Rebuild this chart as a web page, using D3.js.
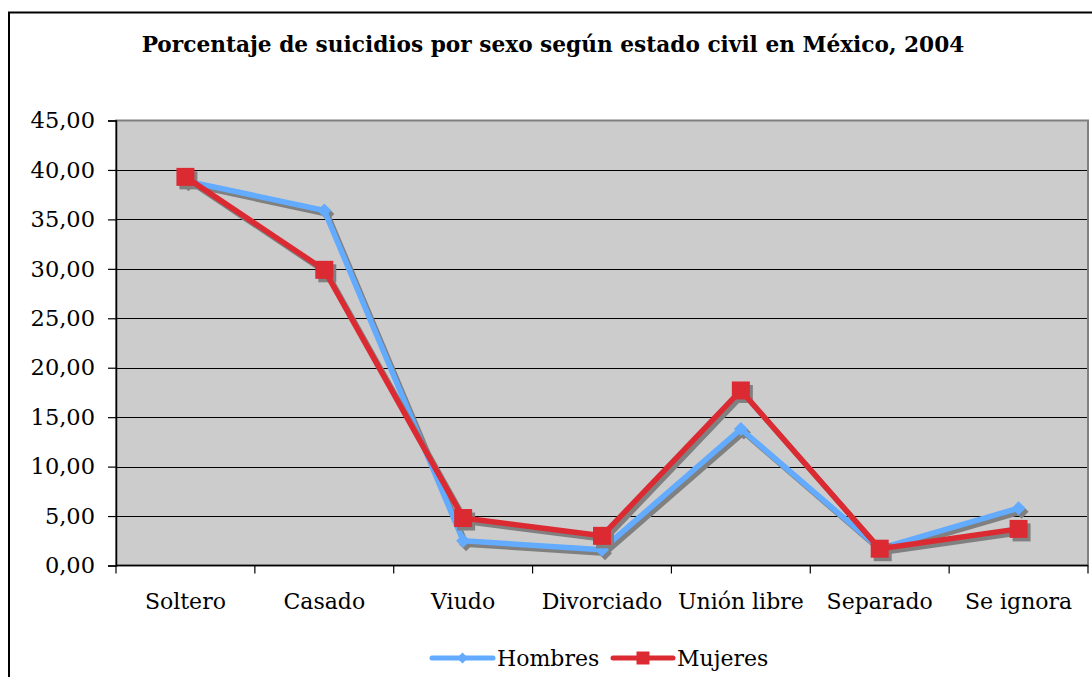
<!DOCTYPE html>
<html>
<head>
<meta charset="utf-8">
<script src="https://cdn.jsdelivr.net/npm/d3@7"></script>
<style>
  html, body { margin: 0; padding: 0; background: #ffffff; }
  svg { display: block; }
</style>
</head>
<body>
<svg id="chart" width="1092" height="677"></svg>
<script>
// Estado civil (categorías del eje X)
const categories = ["Soltero", "Casado", "Viudo", "Divorciado", "Unión libre", "Separado", "Se ignora"];
// Porcentaje de suicidios de hombres por estado civil
const hombres = [38.9, 35.9, 2.5, 1.6, 13.8, 1.7, 5.8];
// Porcentaje de suicidios de mujeres por estado civil
const mujeres = [39.3, 29.9, 4.8, 3.0, 17.7, 1.7, 3.7];
// Marcas del eje Y
const yTicks = [0, 5, 10, 15, 20, 25, 30, 35, 40, 45];
const seriesNames = ["Hombres", "Mujeres"];
const title = "Porcentaje de suicidios por sexo según estado civil en México, 2004";

const svg = d3.select("#chart");
const serif = "'DejaVu Serif', 'Liberation Serif', serif";

const plot = { left: 116, top: 120.5, right: 1088, bottom: 565.5 };

// Marco exterior del gráfico
svg.append("path")
  .attr("d", `M9,677 V12.5 H1092`)
  .attr("fill", "none")
  .attr("stroke", "#000")
  .attr("stroke-width", 2);

// Título
const titleText = svg.append("text")
  .attr("x", 553)
  .attr("y", 52)
  .attr("text-anchor", "middle")
  .attr("font-family", serif)
  .attr("font-weight", "bold")
  .attr("font-size", 18)
  .attr("fill", "#000")
  .text(title);
{
  const w = titleText.node().getComputedTextLength();
  titleText.attr("font-size", 18 * 823 / w);
}

const x = d3.scaleBand().domain(categories).range([plot.left, plot.right]).padding(0);
const cx = c => x(c) + x.bandwidth() / 2;
const y = d3.scaleLinear().domain([0, 45]).range([plot.bottom, plot.top]);

// Fondo del área de trazado
svg.append("rect")
  .attr("x", plot.left).attr("y", plot.top)
  .attr("width", plot.right - plot.left).attr("height", plot.bottom - plot.top)
  .attr("fill", "#cccccc");

// Líneas de división horizontales
svg.append("g").selectAll("line")
  .data(yTicks.filter(v => v > 0 && v < 45))
  .join("line")
  .attr("x1", plot.left).attr("x2", plot.right)
  .attr("y1", d => Math.round(y(d)) + 0.5).attr("y2", d => Math.round(y(d)) + 0.5)
  .attr("stroke", "#000").attr("stroke-width", 1.2);

// Borde del área de trazado
svg.append("rect")
  .attr("x", plot.left).attr("y", plot.top)
  .attr("width", plot.right - plot.left).attr("height", plot.bottom - plot.top)
  .attr("fill", "none")
  .attr("stroke", "#808080").attr("stroke-width", 2);

// Eje Y
const fmt = v => d3.format(".2f")(v).replace(".", ",");
const yAxis = svg.append("g")
  .attr("transform", `translate(${plot.left},0)`)
  .call(d3.axisLeft(y).tickValues(yTicks).tickSize(8).tickPadding(13).tickFormat(fmt));
yAxis.select(".domain").attr("stroke", "#000").attr("stroke-width", 1.5);
yAxis.selectAll(".tick line").attr("stroke", "#000").attr("stroke-width", 1.2);
yAxis.selectAll(".tick text")
  .attr("font-family", serif).attr("font-size", 22.5).attr("fill", "#000");

// Eje X con marcas entre categorías
const xAxisG = svg.append("g");
xAxisG.append("line")
  .attr("x1", plot.left).attr("x2", plot.right)
  .attr("y1", plot.bottom).attr("y2", plot.bottom)
  .attr("stroke", "#000").attr("stroke-width", 1.5);
const boundaries = categories.map(c => x(c)).concat([plot.right]);
xAxisG.selectAll("line.tick")
  .data(boundaries)
  .join("line")
  .attr("class", "tick")
  .attr("x1", d => d).attr("x2", d => d)
  .attr("y1", plot.bottom).attr("y2", plot.bottom + 8)
  .attr("stroke", "#000").attr("stroke-width", 1.2);
xAxisG.selectAll("text")
  .data(categories)
  .join("text")
  .attr("x", d => cx(d))
  .attr("y", 609)
  .attr("text-anchor", "middle")
  .attr("font-family", serif).attr("font-size", 22).attr("fill", "#000")
  .text(d => d);

const line = d3.line().x((d, i) => cx(categories[i])).y(d => y(d));

const series = [
  { name: "Hombres", values: hombres, color: "#62abff", marker: "diamond" },
  { name: "Mujeres", values: mujeres, color: "#dc2a33", marker: "square" }
];

const symbolPath = (type, size) => type === "diamond"
  ? `M0,${-size / 2}L${size / 2},0L0,${size / 2}L${-size / 2},0Z`
  : `M${-size / 2},${-size / 2}H${size / 2}V${size / 2}H${-size / 2}Z`;

const shadow = { dx: 3, dy: 3.5, color: "#808080" };

series.forEach(s => {
  const g = svg.append("g");
  const msize = s.marker === "diamond" ? 14 : 18;
  // Sombra
  g.append("path")
    .attr("d", line(s.values))
    .attr("transform", `translate(${shadow.dx},${shadow.dy})`)
    .attr("fill", "none").attr("stroke", shadow.color)
    .attr("stroke-width", 5.5).attr("stroke-linejoin", "round");
  g.selectAll("path.shadowMark")
    .data(s.values)
    .join("path")
    .attr("class", "shadowMark")
    .attr("transform", (d, i) => `translate(${cx(categories[i]) + shadow.dx},${y(d) + shadow.dy})`)
    .attr("d", symbolPath(s.marker, msize))
    .attr("fill", shadow.color);
  // Línea de la serie
  g.append("path")
    .attr("d", line(s.values))
    .attr("fill", "none").attr("stroke", s.color)
    .attr("stroke-width", 5.5).attr("stroke-linejoin", "round");
  g.selectAll("path.mark")
    .data(s.values)
    .join("path")
    .attr("class", "mark")
    .attr("transform", (d, i) => `translate(${cx(categories[i])},${y(d)})`)
    .attr("d", symbolPath(s.marker, msize))
    .attr("fill", s.color);
});

// Leyenda
const legendItems = [
  { name: seriesNames[0], color: series[0].color, marker: "diamond", x1: 432, x2: 493, tx: 497 },
  { name: seriesNames[1], color: series[1].color, marker: "square", x1: 613, x2: 673, tx: 677 }
];
const legend = svg.append("g");
legendItems.forEach(it => {
  legend.append("line")
    .attr("x1", it.x1).attr("x2", it.x2).attr("y1", 658).attr("y2", 658)
    .attr("stroke", it.color).attr("stroke-width", 5).attr("stroke-linecap", "round");
  legend.append("path")
    .attr("transform", `translate(${(it.x1 + it.x2) / 2},658)`)
    .attr("d", symbolPath(it.marker, it.marker === "diamond" ? 11 : 13))
    .attr("fill", it.color);
  legend.append("text")
    .attr("x", it.tx).attr("y", 666)
    .attr("font-family", serif).attr("font-size", 22).attr("fill", "#000")
    .text(it.name);
});
</script>
</body>
</html>
